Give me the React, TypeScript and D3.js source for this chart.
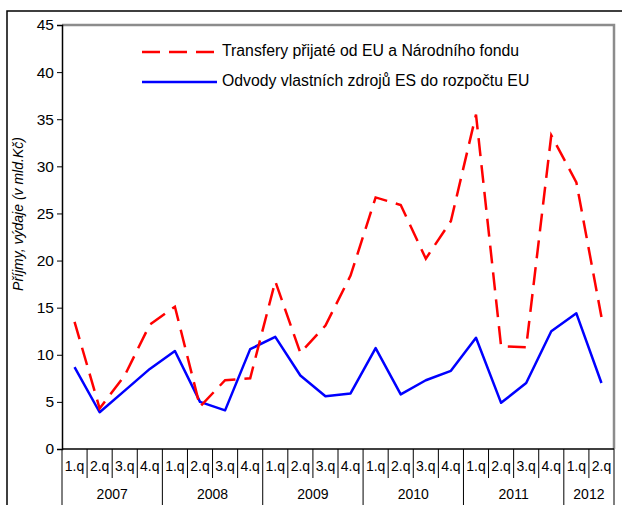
import React, { useEffect, useRef } from "react";
import * as d3 from "d3";

const years = ["2007", "2008", "2009", "2010", "2011", "2012"];
const quarters = [
  "1.q", "2.q", "3.q", "4.q", "1.q", "2.q", "3.q", "4.q", "1.q", "2.q", "3.q", "4.q",
  "1.q", "2.q", "3.q", "4.q", "1.q", "2.q", "3.q", "4.q", "1.q", "2.q",
];
const transfery = [
  13.5, 4.3, 7.8, 13.2, 15.1, 4.5, 7.3, 7.5, 17.8, 10.2, 13.1, 18.4,
  26.7, 25.9, 20.2, 24.2, 35.5, 10.9, 10.8, 33.3, 28.3, 14.0,
];
const odvody = [
  8.7, 3.9, 6.2, 8.5, 10.4, 5.0, 4.1, 10.6, 11.9, 7.8, 5.6, 5.9,
  10.7, 5.8, 7.3, 8.3, 11.8, 4.9, 7.0, 12.5, 14.4, 7.0,
];
const legendLabels = [
  "Transfery přijaté od EU a Národního fondu",
  "Odvody vlastních zdrojů ES do rozpočtu EU",
];
const yTicks = [0, 5, 10, 15, 20, 25, 30, 35, 40, 45];

export default function App() {
  const ref = useRef<SVGSVGElement>(null);

  useEffect(() => {
    const svg = d3.select(ref.current);
    svg.selectAll("*").remove();

    const left = 62, right = 614, top = 25, bottom = 449;
    const font = "'Liberation Sans', Arial, sans-serif";

    const x = d3.scaleBand<number>()
      .domain(d3.range(quarters.length))
      .range([left, right]);
    const y = d3.scaleLinear().domain([0, 45]).range([bottom, top]);
    const cx = (i: number) => (x(i) as number) + x.bandwidth() / 2;

    // outer frame
    svg.append("rect")
      .attr("x", 7).attr("y", 11)
      .attr("width", 640).attr("height", 520)
      .attr("fill", "none").attr("stroke", "#000").attr("stroke-width", 1.5);

    // plot border (gray top/right)
    svg.append("path")
      .attr("d", `M${left},${top}H${right}V${bottom}`)
      .attr("fill", "none").attr("stroke", "#8c8c8c").attr("stroke-width", 2.5);

    // y axis
    const gy = svg.append("g")
      .attr("transform", `translate(${left},0)`)
      .call(d3.axisLeft(y).tickValues(yTicks).tickSize(5).tickPadding(3));
    gy.select(".domain").attr("stroke", "#000").attr("stroke-width", 1.5);
    gy.selectAll(".tick line").attr("stroke", "#000");
    gy.selectAll(".tick text")
      .attr("font-family", font).attr("font-size", 15.5).attr("fill", "#000");

    svg.append("text")
      .attr("transform", "translate(19,214) rotate(-90)")
      .attr("text-anchor", "middle").attr("dominant-baseline", "middle")
      .attr("font-family", font).attr("font-size", 14).attr("font-style", "italic")
      .text("Příjmy, výdaje (v mld.Kč)");

    // category axis
    const gx = svg.append("g");
    gx.append("line")
      .attr("x1", left).attr("x2", right).attr("y1", bottom).attr("y2", bottom)
      .attr("stroke", "#000").attr("stroke-width", 1.5);
    for (let i = 0; i <= quarters.length; i++) {
      const xx = i < quarters.length ? (x(i) as number) : right;
      const full = i % 4 === 0 || i === quarters.length;
      gx.append("line")
        .attr("x1", xx).attr("x2", xx)
        .attr("y1", bottom).attr("y2", full ? 510 : 478)
        .attr("stroke", "#000").attr("stroke-width", 1);
    }
    gx.selectAll("text.q").data(quarters).join("text")
      .attr("class", "q")
      .attr("x", (d, i) => cx(i)).attr("y", 467)
      .attr("text-anchor", "middle").attr("dominant-baseline", "middle")
      .attr("font-family", font).attr("font-size", 14)
      .text(d => d);
    gx.selectAll("text.yr").data(years).join("text")
      .attr("class", "yr")
      .attr("x", (d, i) => {
        const a = i * 4;
        const b = Math.min(a + 3, quarters.length - 1);
        return (cx(a) + cx(b)) / 2;
      })
      .attr("y", 495)
      .attr("text-anchor", "middle").attr("dominant-baseline", "middle")
      .attr("font-family", font).attr("font-size", 14)
      .text(d => d);

    const line = d3.line<number>().x((d, i) => cx(i)).y(d => y(d));

    svg.append("path")
      .datum(odvody)
      .attr("d", line)
      .attr("fill", "none").attr("stroke", "#0000ff").attr("stroke-width", 2.5)
      .attr("stroke-linejoin", "round");

    svg.append("path")
      .datum(transfery)
      .attr("d", line)
      .attr("fill", "none").attr("stroke", "#ff0000").attr("stroke-width", 2.5)
      .attr("stroke-dasharray", "18,9");

    // legend
    const lg = svg.append("g");
    const colors = ["#ff0000", "#0000ff"];
    legendLabels.forEach((lab, i) => {
      const ly = 52 + i * 30;
      lg.append("line")
        .attr("x1", 142).attr("x2", 217).attr("y1", ly).attr("y2", ly)
        .attr("stroke", colors[i]).attr("stroke-width", 2.5)
        .attr("stroke-dasharray", i === 0 ? "18,9" : null);
      lg.append("text")
        .attr("x", 222).attr("y", ly)
        .attr("dominant-baseline", "middle")
        .attr("font-family", font).attr("font-size", 15.8)
        .text(lab);
    });
  }, []);

  return (
    <svg
      ref={ref}
      width={622}
      height={505}
      style={{ position: "absolute", left: 0, top: 0, background: "#fff" }}
    />
  );
}
